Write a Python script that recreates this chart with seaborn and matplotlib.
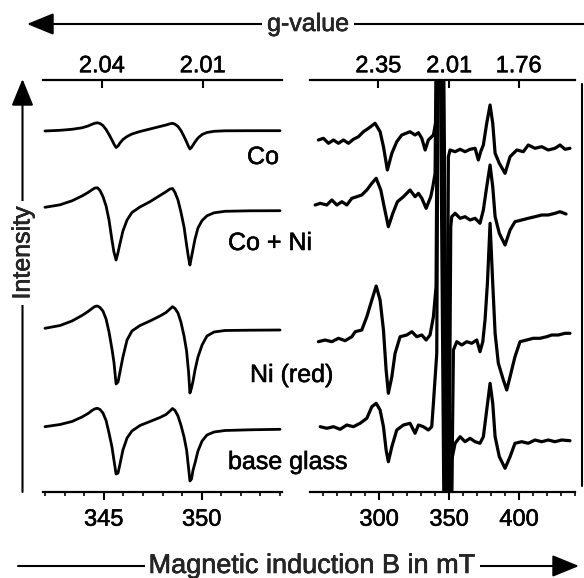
import numpy as np
import pandas as pd
import matplotlib
matplotlib.use("Agg")
import matplotlib.pyplot as plt
import seaborn as sns
from matplotlib.lines import Line2D
from matplotlib.patches import FancyArrowPatch
from matplotlib.ticker import MultipleLocator, NullLocator
from matplotlib.text import Text
import matplotlib.patheffects as pe

# ---------------- data ----------------
samples = ["Co", "Co + Ni", "Ni (red)", "base glass"]

# left panel: narrow field window (mT), intensity in arbitrary stacked units
B_left = [342.00, 342.77, 343.38, 343.89, 344.20, 344.40, 344.55, 344.68, 344.81, 344.96,
          345.12, 345.27, 345.42, 345.52, 345.63, 345.73, 345.83, 345.98, 346.19, 346.44,
          346.85, 347.36, 347.87, 348.18, 348.38, 348.51, 348.64, 348.79, 348.94, 349.10,
          349.23, 349.33, 349.40, 349.48, 349.56, 349.66, 349.81, 350.02, 350.27, 350.63,
          351.19, 352.47, 354.00]
co_left = [361, 361.7, 362.7, 364.2, 366, 367.7, 368.8, 369.2, 368.5, 366.5,
           362.5, 357.5, 352, 348, 344.5, 346, 349, 352.5, 355.5, 358,
           360.5, 363, 365.5, 367, 368.2, 368.7, 367.8, 365.5, 361.5, 355.5,
           350, 345.5, 343, 344.5, 347, 350, 354, 357.5, 359.5, 360.7,
           361.2, 361.3, 361.3]
coni_left = [284.7, 287.2, 291.2, 296, 299.5, 302.2, 304, 304.2, 301.5, 295.5,
             286, 272, 252, 240, 232, 239.5, 248.5, 261, 272, 279.5,
             285, 290.3, 296.5, 300.3, 303, 303.5, 299.5, 292, 280, 265,
             247, 234, 227, 235, 243, 253, 264, 271.5, 276.2, 279.2,
             280.7, 281.2, 281.3]
ni_left = [163.7, 166.5, 171, 176.5, 180.5, 183.5, 185.5, 186, 184.5, 181,
           173, 160, 143, 130, 108, 110, 120, 135, 152, 161,
           166.5, 171, 176, 179.5, 183, 185.3, 183.5, 179, 170, 156,
           141, 120, 99, 104, 111, 122, 135, 147, 156, 160,
           161.5, 161.8, 162]
base_left = [65.3, 67.5, 70.5, 75, 78.5, 81.5, 83.2, 83.7, 82.5, 79,
             71.5, 59, 45, 32, 18, 19, 28, 42, 54, 61,
             66.5, 70.5, 74.5, 77.5, 81, 83.5, 81.5, 76, 67, 55,
             42, 24, 11, 13, 22, 29, 41, 51, 57, 60,
             61.5, 62.2, 62.7]

# right panel: wide field window (mT)
B_co_r = [256.6, 260.2, 263.8, 267.4, 270.9, 274.5, 278.1, 281.6, 285.2, 288.8, 292.4, 297.1,
          300.7, 303.1, 305.9, 309.1, 312.6, 316.2, 322.1, 325.7, 328.1, 330.5, 332.9, 335.2,
          338.8, 341.2, 342.3, 347.6, 349.5, 350.7, 354.3, 357.9, 361.4, 365.0, 368.6, 370.9,
          372.6, 374.5, 376.9, 379.3, 381.2, 382.9, 385.9, 390.0, 393.6, 398.4, 403.1, 406.6,
          411.4, 416.2, 420.9, 425.7, 429.3, 432.9, 436.4]
I_co_r = [352, 353.7, 348.7, 352, 348.7, 352, 348.7, 352.7, 355.3, 360.3, 363.7, 368.7,
          360.3, 345.3, 322, 338.7, 350.3, 357, 360.3, 357, 359.3, 353.7, 342, 352,
          357, 375.3, 700, -250, 335.3, 342, 340.3, 342.7, 340.3, 342.7, 343.7, 332,
          340.3, 347, 368.7, 387, 368.7, 338.7, 328.7, 318.7, 335.3, 342, 340.3, 347,
          343.7, 345.3, 342, 343.7, 347, 342.7, 343.7]

B_coni_r = [254.3, 257.9, 262.6, 266.2, 269.8, 273.4, 276.9, 280.5, 284.1, 287.6, 291.2, 294.8,
            297.9, 301.2, 303.6, 306.6, 309.8, 313.1, 317.4, 322.1, 325.7, 328.1, 330.5, 333.6,
            336.9, 338.4, 340.0, 342.6, 348.9, 351.2, 351.9, 354.3, 357.9, 361.4, 365.0, 368.6,
            372.1, 374.5, 376.9, 379.3, 381.2, 382.9, 385.9, 390.0, 393.6, 397.1, 401.9, 406.6,
            411.4, 416.2, 420.9, 425.7, 429.3, 433.6]
I_coni_r = [287, 288.7, 287, 292, 287, 290.3, 287, 293.7, 295.3, 297, 302, 308.7,
            313.7, 302, 285.3, 265.3, 278.7, 290.3, 295.3, 302, 295.3, 298.7, 293.7, 283.7,
            295.3, 305.3, 318.7, 750, -250, 265.3, 275.3, 278.7, 273.7, 275.3, 272, 273.7,
            268.7, 282, 305.3, 327, 305.3, 275.3, 258.7, 247, 262, 270.3, 272, 273.7,
            275.3, 277, 277, 278.7, 280.3, 278]

B_ni_r = [256.6, 261.4, 266.2, 270.9, 275.7, 280.5, 282.9, 287.6, 291.2, 294.8, 297.9, 300.7,
          303.1, 305.0, 306.6, 309.1, 311.4, 315.0, 319.8, 323.4, 326.9, 330.5, 333.6, 336.4,
          338.8, 340.7, 343.2, 349.6, 353.1, 355.5, 359.1, 362.6, 366.2, 369.8, 372.1, 374.1,
          375.7, 377.4, 379.3, 381.2, 382.9, 385.2, 388.8, 391.2, 393.6, 397.1, 400.7, 405.5,
          410.2, 415.0, 419.8, 423.4, 428.1, 432.9, 436.4]
I_ni_r = [150.3, 152, 150.3, 153.7, 151.3, 155.3, 160.3, 162, 175.3, 192, 206, 192,
          162, 122, 98.7, 115.3, 138.7, 155.3, 157, 160.3, 155.3, 157, 152, 157,
          175.3, 205.3, 800, -300, 142, 150.3, 147, 150.3, 148.7, 152, 140.3, 150.3,
          172, 208.7, 268.7, 208.7, 158.7, 128.7, 112, 102, 115.3, 135.3, 150.3, 152,
          153.7, 153.7, 155.3, 157, 157, 158.7, 158.7]

B_base_r = [257.9, 262.6, 267.4, 272.1, 276.9, 281.6, 286.4, 291.2, 294.8, 297.9, 300.7, 303.1,
            305.0, 306.6, 309.1, 312.6, 317.4, 322.1, 325.7, 328.1, 331.6, 335.2, 337.6, 338.8,
            341.2, 343.6, 350.2, 351.9, 354.3, 357.9, 361.4, 365.0, 368.6, 372.1, 374.5, 376.9,
            379.3, 381.2, 382.9, 385.9, 390.0, 393.6, 397.1, 401.9, 406.6, 411.4, 416.2, 420.9,
            425.7, 430.5, 436.4]
I_base_r = [65.3, 63.7, 65.3, 62.7, 67, 65.3, 68.7, 73.7, 85.3, 88.7, 82, 65.3,
            42, 30.3, 45.3, 62, 67, 68.7, 58.7, 67, 65.3, 62, 65.3, 88.7,
            138.7, 900, -300, 32, 48.7, 55.3, 50.3, 53.7, 50.3, 48.7, 55.3, 82,
            108.7, 88.7, 55.3, 35.3, 23.7, 35.3, 48.7, 50.3, 48.7, 52, 50.3, 52,
            50.3, 52, 51.3]

# axis ticks
left_ticks = [345, 350]
right_ticks = [300, 350, 400]
g_left = [2.04, 2.01]
g_right = [2.35, 2.01, 1.76]
G_TIMES_B = 703.6   # g * B(mT) for the spectrometer frequency

# ---------------- figure ----------------
sns.set_theme(style="white")
plt.rcParams['font.family'] = ['Liberation Sans', 'DejaVu Sans']

W, H = 584, 578
fig = plt.figure(figsize=(W / 100, H / 100), dpi=100)
fig.patch.set_facecolor("white")


def fx(x):
    return x / W


def fy(y):
    return 1 - y / H


axL = fig.add_axes([fx(43), fy(492), (282 - 43) / W, 412 / H])
axR = fig.add_axes([fx(310), fy(492), (575 - 310) / W, 412 / H])

for y in (co_left, coni_left, ni_left, base_left):
    sns.lineplot(x=B_left, y=y, ax=axL, color="black", linewidth=2.0,
                 sort=False, estimator=None, legend=False)

for bx, y in ((B_co_r, I_co_r), (B_coni_r, I_coni_r), (B_ni_r, I_ni_r), (B_base_r, I_base_r)):
    sns.lineplot(x=bx, y=y, ax=axR, color="black", linewidth=2.3,
                 sort=False, estimator=None, legend=False)

axL.set_xlim(341.9, 354.1)
axR.set_xlim(250.6, 440.0)


def b2g(b):
    b = np.asarray(b, dtype=float)
    with np.errstate(divide="ignore", invalid="ignore"):
        return G_TIMES_B / b


for ax, ticks, minor, gt in ((axL, left_ticks, 1, g_left), (axR, right_ticks, 10, g_right)):
    ax.set_ylim(0, 412)
    ax.set_facecolor("none")
    ax.set_yticks([])
    ax.set_xlabel("")
    ax.set_ylabel("")
    for s in ("left", "right", "top"):
        ax.spines[s].set_visible(False)
    ax.spines["bottom"].set_linewidth(1.6)
    ax.spines["bottom"].set_color("black")
    ax.set_xticks(ticks)
    ax.set_xticklabels([str(t) for t in ticks])
    ax.xaxis.set_minor_locator(MultipleLocator(minor))
    ax.tick_params(axis="x", which="major", direction="out", length=6, width=1.5,
                   labelsize=17, pad=6, bottom=True, colors="black")
    ax.tick_params(axis="x", which="minor", direction="out", length=3, width=1.2,
                   bottom=True, colors="black")
    sec = ax.secondary_xaxis("top", functions=(b2g, b2g))
    sec.set_xticks(gt)
    sec.set_xticklabels([f"{g:.2f}" for g in gt])
    sec.xaxis.set_minor_locator(NullLocator())
    sec.tick_params(axis="x", direction="in", length=6, width=1.5, labelsize=17,
                    pad=2, colors="black")
    sec.spines["top"].set_linewidth(1.6)
    sec.spines["top"].set_color("black")

# sample labels
label_pos = [(247, 164), (228, 250), (250, 382), (228, 469)]
for name, (px, py) in zip(samples, label_pos):
    fig.text(fx(px), fy(py), name, ha="left", va="baseline", fontsize=18, color="black")

# frame line at right edge
fig.add_artist(Line2D([fx(582), fx(582)], [fy(84), fy(486)], color="black", linewidth=1.5))

# g-value arrow (pointing left)
arrow_kw = dict(arrowstyle="-|>,head_length=1.1,head_width=0.45", mutation_scale=15,
                linewidth=1.5, color="black", shrinkA=0, shrinkB=0,
                transform=fig.transFigure)
fig.add_artist(FancyArrowPatch((fx(584), fy(24)), (fx(27), fy(24)), **arrow_kw))
fig.text(fx(308), fy(24), "g-value", ha="center", va="center", fontsize=18,
         bbox=dict(facecolor="white", edgecolor="none", pad=4))

# magnetic induction arrow (pointing right)
fig.add_artist(FancyArrowPatch((fx(18), fy(566)), (fx(579), fy(566)), **arrow_kw))
fig.text(fx(312), fy(566), "Magnetic induction B in mT", ha="center", va="center",
         fontsize=19.5, bbox=dict(facecolor="white", edgecolor="none", pad=3))

# intensity arrow (pointing up)
fig.add_artist(FancyArrowPatch((fx(22.5), fy(492)), (fx(22.5), fy(79)), **arrow_kw))
fig.text(fx(22.5), fy(253), "Intensity", ha="center", va="center", rotation=90,
         fontsize=18, bbox=dict(facecolor="white", edgecolor="none", pad=4))

# slightly heavier glyphs, like the printed original
for t in fig.findobj(Text):
    t.set_path_effects([pe.withStroke(linewidth=0.4, foreground="black")])

fig.savefig("out.png", dpi=100, facecolor="white")
